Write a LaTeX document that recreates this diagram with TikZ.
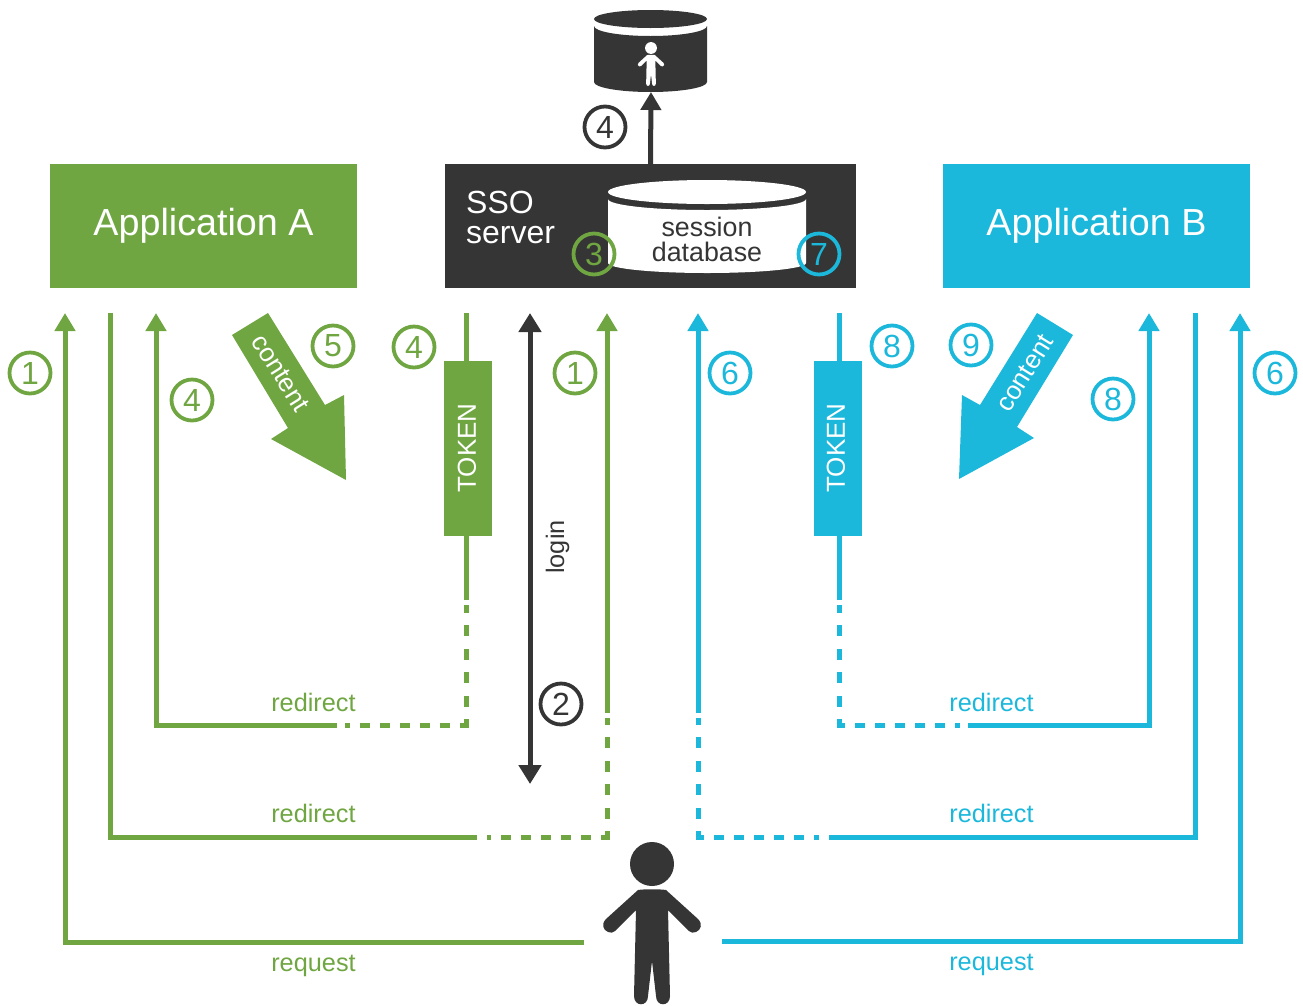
\documentclass[tikz,border=0pt]{standalone}
\usepackage{fontspec}
\setmainfont{Liberation Sans}
\usetikzlibrary{arrows.meta}
\definecolor{appgreen}{HTML}{70A642}
\definecolor{appblue}{HTML}{1CB8DB}
\definecolor{ssodark}{HTML}{353535}
\newcommand{\fsize}[1]{\fontsize{#1}{#1}\selectfont}
\tikzset{
    appbox/.style={inner sep=0pt, minimum width=307pt, minimum height=124pt, text=white, font=\fsize{37.7}},
    tokenbox/.style={inner sep=0pt, minimum width=48pt, minimum height=175pt},
    tokentext/.style={rotate=90, text=white, font=\fsize{26}},
    stepnum/.style={circle, draw, fill=white, line width=3.8pt, minimum size=41pt, inner sep=0pt, font=\fsize{32}},
    pathlabel/.style={font=\fsize{25.3}},
    flow/.style={line width=5pt},
    flowtip/.style={line width=5pt, -{Triangle[length=18pt, width=20pt]}},
    dashv/.style={line width=5pt, dash pattern=on 11pt off 12.5pt, dash phase=5pt},
    dashh/.style={line width=5pt, dash pattern=on 10pt off 10pt, dash phase=1.5pt, shorten <=-2.5pt},
    person/.pic={
        \fill (0,0) circle [radius=22];
        \fill (-14,26) .. controls (-8,25) and (8,25) .. (14,26) -- (46,55)
            .. controls (51,60) and (49,66) .. (44,68) .. controls (41,69) and (39,69) .. (37,67)
            -- (16,46) -- (18,132) .. controls (18,143) and (4,143) .. (4,132) -- (0,97)
            -- (-4,132) .. controls (-4,143) and (-18,143) .. (-18,132) -- (-16,46)
            -- (-37,67) .. controls (-39,69) and (-41,69) .. (-44,68)
            .. controls (-49,66) and (-51,60) .. (-46,55) -- cycle;
    }
}
\begin{document}
\begin{tikzpicture}[x=1pt, y=-1pt]
    \useasboundingbox (0,0) rectangle (1303,1005);

    \node[appbox, fill=appgreen] (appA) at (203.5,226) {Application A};
    \node[appbox, fill=appblue] (appB) at (1096.5,226) {Application B};
    \node[inner sep=0pt, minimum width=411pt, minimum height=124pt, fill=ssodark] (sso) at (650.5,226) {};
    \node[anchor=west, align=left, text=white, inner sep=0pt, font=\fsize{32}] (ssotext) at (466,217) {SSO\\[-2pt]server};

    \coordinate (userdbbase) at (651,92);
    \fill[ssodark] (594,26) -- (594,82) arc [start angle=180, end angle=0, x radius=56.5, y radius=10]
        -- (707,26) arc [start angle=0, end angle=180, x radius=56.5, y radius=10] -- cycle;
    \fill[ssodark] (650.5,19) ellipse [x radius=56.5, y radius=9];
    \pic[white, scale=0.27] at (651,48) {person};

    \fill[white] (608,199) -- (608,263) arc [start angle=180, end angle=0, x radius=99, y radius=10]
        -- (806,199) arc [start angle=0, end angle=180, x radius=99, y radius=11] -- cycle;
    \fill[white] (707,192) ellipse [x radius=99, y radius=12];
    \node[align=center, text=ssodark, inner sep=0pt, font=\fsize{26.8}] (sessiondb) at (707,239.5) {session\\[-1.5pt]database};

    \draw[flowtip, ssodark] (sso.north) -- (userdbbase);
    \coordinate (logintop) at (530,313);
    \coordinate (loginend) at (530,784);
    \draw[line width=5pt, ssodark, {Triangle[length=19pt, width=22pt]}-{Triangle[length=19pt, width=22pt]}] (logintop) -- (loginend);
    \node[rotate=90, text=ssodark, inner sep=0pt, font=\fsize{25.3}] (login) at (557.5,547) {login};

    \coordinate (reqA) at (584,942);
    \coordinate (reqAtop) at (65,313);
    \coordinate (longAtop) at (110,313);
    \coordinate (longAend) at (477,837);
    \coordinate (longAcorner) at (607,837);
    \coordinate (longAup) at (607,713);
    \coordinate (longAtip) at (607,313);
    \coordinate (shortAtip) at (156,313);
    \coordinate (shortAend) at (337,725);
    \coordinate (shortAcorner) at (466,725);
    \coordinate (shortAup) at (466,600);
    \coordinate (shortAtop) at (466,313);

    \begin{scope}[appgreen]
        \draw[flowtip] (reqA) -- (65,942) -- (reqAtop);
        \draw[flow] (longAtop) -- (110,837) -- (longAend);
        \draw[dashh] (longAcorner) -- (487,837);
        \draw[dashv] (longAcorner) -- (607,718);
        \draw[flowtip] (longAup) -- (longAtip);
        \draw[flowtip] (shortAend) -- (156,725) -- (shortAtip);
        \draw[dashh] (shortAcorner) -- (345,725);
        \draw[dashv] (shortAcorner) -- (466,605);
        \draw[flow] (shortAup) -- (shortAtop);
        \fill (232,335) -- (268,313) -- (325,405) -- (344,395) -- (346,480) -- (271,439) -- (288,428) -- cycle;
    \end{scope}
    \node[tokenbox, fill=appgreen] (tokenA) at (468,448.5) {};
    \node[tokentext] (tokenAtext) at (467,448) {TOKEN};
    \node[rotate=-58, text=white, inner sep=0pt, font=\fsize{26}] (contentA) at (280.5,373) {content};

    \coordinate (reqB) at (722,941);
    \coordinate (reqBtop) at (1240,313);
    \coordinate (longBtop) at (1195,313);
    \coordinate (longBend) at (829,837);
    \coordinate (longBcorner) at (698,837);
    \coordinate (longBup) at (698,713);
    \coordinate (longBtip) at (698,313);
    \coordinate (shortBtip) at (1149,313);
    \coordinate (shortBend) at (968,725);
    \coordinate (shortBcorner) at (839,725);
    \coordinate (shortBup) at (839,600);
    \coordinate (shortBtop) at (839,313);

    \begin{scope}[appblue]
        \draw[flowtip] (reqB) -- (1240,941) -- (reqBtop);
        \draw[flow] (longBtop) -- (1195,837) -- (longBend);
        \draw[dashh] (longBcorner) -- (819,837);
        \draw[dashv] (longBcorner) -- (698,718);
        \draw[flowtip] (longBup) -- (longBtip);
        \draw[flowtip] (shortBend) -- (1149,725) -- (shortBtip);
        \draw[dashh] (shortBcorner) -- (960,725);
        \draw[dashv] (shortBcorner) -- (839,605);
        \draw[flow] (shortBup) -- (shortBtop);
        \fill (1073,335) -- (1037,313) -- (980,405) -- (962,395) -- (959,479) -- (1034,438) -- (1017,427) -- cycle;
    \end{scope}
    \node[tokenbox, fill=appblue] (tokenB) at (838,448.5) {};
    \node[tokentext] (tokenBtext) at (836,448) {TOKEN};
    \node[rotate=58, text=white, inner sep=0pt, font=\fsize{26}] (contentB) at (1025,373) {content};

    \node[pathlabel, text=appgreen] (redirA1) at (313.5,702) {redirect};
    \node[pathlabel, text=appgreen] (redirA2) at (313.5,813) {redirect};
    \node[pathlabel, text=appgreen] (requestA) at (313.5,966) {request};
    \node[pathlabel, text=appblue] (redirB1) at (991.5,702) {redirect};
    \node[pathlabel, text=appblue] (redirB2) at (991.5,813) {redirect};
    \node[pathlabel, text=appblue] (requestB) at (991.5,965) {request};

    \node[stepnum, draw=appgreen, text=appgreen] (stepA1) at (30,373) {1};
    \node[stepnum, draw=appgreen, text=appgreen] (stepA4) at (192,400) {4};
    \node[stepnum, draw=appgreen, text=appgreen] (stepA5) at (333,346) {5};
    \node[stepnum, draw=appgreen, text=appgreen] (stepA4b) at (414,347) {4};
    \node[stepnum, draw=appgreen, text=appgreen] (stepA1b) at (575,373) {1};
    \node[stepnum, draw=appgreen, text=appgreen, fill=none] (stepA3) at (594,254) {3};
    \node[stepnum, draw=ssodark, text=ssodark] (stepS4) at (605,127) {4};
    \node[stepnum, draw=ssodark, text=ssodark] (stepS2) at (561,704) {2};
    \node[stepnum, draw=appblue, text=appblue, fill=none] (stepB7) at (819,254) {7};
    \node[stepnum, draw=appblue, text=appblue] (stepB6) at (730,373) {6};
    \node[stepnum, draw=appblue, text=appblue] (stepB8) at (892,346) {8};
    \node[stepnum, draw=appblue, text=appblue] (stepB9) at (971,345) {9};
    \node[stepnum, draw=appblue, text=appblue] (stepB8b) at (1113,399) {8};
    \node[stepnum, draw=appblue, text=appblue] (stepB6b) at (1275,373) {6};

    \pic[ssodark] at (652,864) {person};
\end{tikzpicture}
\end{document}
